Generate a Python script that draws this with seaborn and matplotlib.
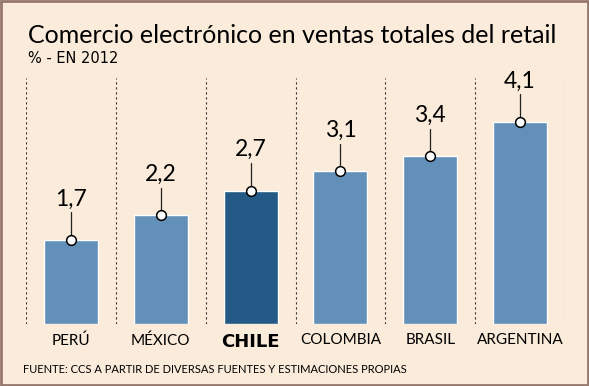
import numpy as np
import pandas as pd
import matplotlib
matplotlib.use("Agg")
import matplotlib.pyplot as plt
import seaborn as sns

# datos
paises = ["PERÚ", "MÉXICO", "CHILE", "COLOMBIA", "BRASIL", "ARGENTINA"]
valores = [1.7, 2.2, 2.7, 3.1, 3.4, 4.1]
etiquetas = ["1,7", "2,2", "2,7", "3,1", "3,4", "4,1"]
destacado = "CHILE"

fondo = "#FAEBDA"
azul = "#6390B8"
azul_osc = "#245A85"
narrow = ["Lato", "DejaVu Sans"]

sns.set_theme(style="white")
plt.rcParams["font.family"] = ["Lato", "DejaVu Sans"]

df = pd.DataFrame({"pais": paises, "valor": valores})
df["grupo"] = ["d" if p == destacado else "n" for p in paises]

fig = plt.figure(figsize=(5.89, 3.86), dpi=100, facecolor=fondo)
ax = fig.add_axes([26 / 589, 1 - 323.6 / 386, 539 / 589, 246 / 386])
ax.set_facecolor(fondo)

sns.barplot(data=df, x="pais", y="valor", hue="grupo",
            palette={"n": azul, "d": azul_osc}, width=0.6,
            dodge=False, legend=False, ax=ax, saturation=1)

# separadores punteados
ax.vlines(np.arange(-0.5, len(paises)), 0, 5, colors="#333333",
          linestyles=(0, (2, 2.5)), linewidth=0.8, zorder=0)

# etiquetas de valor
for i, (v, t) in enumerate(zip(valores, etiquetas)):
    ax.plot([i, i], [v, v + 0.56], color="#222222", lw=0.9, zorder=3)
    ax.plot(i, v, "o", ms=7, mfc="white", mec="black", mew=1.1, zorder=4)
    ax.text(i, v + 0.7, t, ha="center", va="baseline", fontsize=16.5,
            color="black")

ax.set_xlim(-0.5, len(paises) - 0.5)
ax.set_ylim(0, 5)
ax.set_xlabel("")
ax.set_ylabel("")
ax.set_yticks([])
ax.set_xticks(range(len(paises)))
ax.set_xticklabels(paises, family=narrow, fontsize=11, color="black")
for lab in ax.get_xticklabels():
    if lab.get_text() == destacado:
        lab.set_fontweight("bold")
        lab.set_family(["DejaVu Sans"])
        lab.set_fontsize(13)
ax.tick_params(axis="x", length=0, pad=7)
for s in ax.spines.values():
    s.set_visible(False)

fig.text(28 / 589, 1 - 43 / 386, "Comercio electrónico en ventas totales del retail",
         fontsize=18, color="black", va="baseline")
fig.text(28 / 589, 1 - 63 / 386, "% - EN 2012", family=["DejaVu Sans"],
         fontsize=10.5, color="black", va="baseline")
fig.text(23 / 589, 1 - 373 / 386,
         "FUENTE: CCS A PARTIR DE DIVERSAS FUENTES Y ESTIMACIONES PROPIAS",
         family=narrow, fontsize=8, color="black", va="baseline")

# marco
fig.patches.append(plt.Rectangle((0.002, 0.003), 0.996, 0.994, transform=fig.transFigure,
                                 fill=False, ec="#94786C", lw=2))

fig.savefig("out.png", dpi=100, facecolor=fondo)
